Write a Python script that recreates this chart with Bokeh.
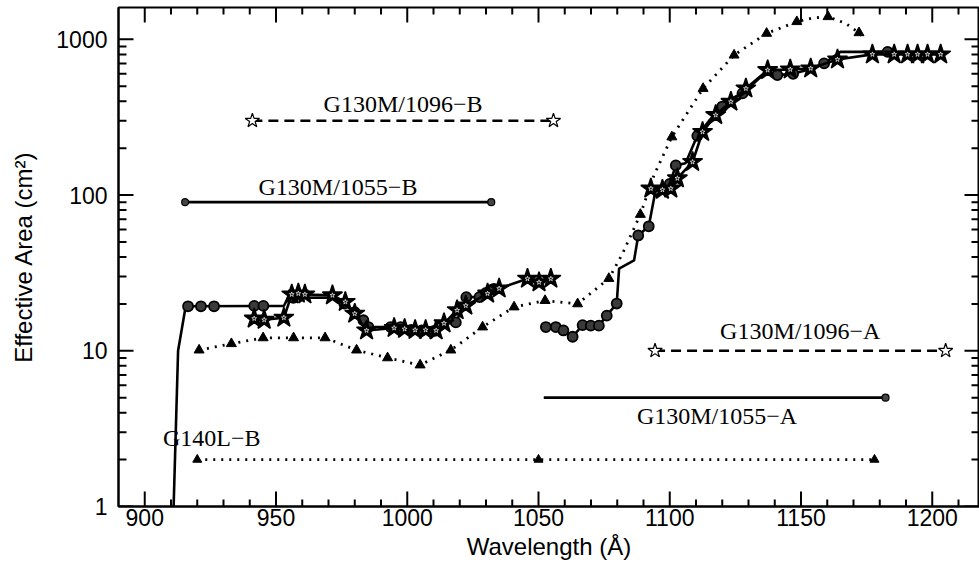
import math
from bokeh.plotting import figure
from bokeh.models import FixedTicker, Range1d, BasicTickFormatter
from bokeh.core.properties import value
from bokeh.embed import file_html
from bokeh.resources import INLINE

# ---------------- data ----------------
# G130M/1055 segment B (solid line, circles)
b1055_line_wl = [911.0, 912.7, 915.6, 945.2, 953.0, 954.5, 972.0, 976.0, 980.0, 983.3, 985.2,
                 998.0, 1000.0, 1010.2, 1014.0, 1018.5, 1020.5, 1022.5, 1027.5, 1030.0, 1033.0]
b1055_line_A = [1.0, 10.0, 19.3, 19.4, 19.4, 21.9, 22.0, 20.1, 17.7, 15.7, 14.2,
                14.2, 13.6, 13.4, 14.9, 15.2, 18.0, 22.1, 22.1, 23.5, 25.0]
b1055_mark_wl = [916.5, 921.4, 926.4, 941.7, 945.2, 956.6, 976.0, 980.0, 983.3, 985.2, 993.7,
                 997.5, 1001.5, 1005.5, 1010.2, 1018.5, 1022.5, 1027.5, 1030.0, 1033.0]
b1055_mark_A = [19.3, 19.3, 19.3, 19.4, 19.4, 21.9, 20.1, 17.7, 15.7, 14.2, 14.2,
                14.2, 13.6, 13.5, 13.4, 15.2, 22.1, 22.1, 23.5, 25.0]

# G130M/1055 segment A (solid line, circles)
a1055_line_wl = [1052.8, 1056.6, 1059.5, 1063.0, 1066.8, 1069.9, 1073.0, 1076.0, 1079.8, 1080.7,
                 1086.4, 1088.0, 1092.0, 1094.5, 1100.0, 1102.3, 1106.0, 1110.5, 1115.0, 1120.0,
                 1124.0, 1127.7, 1134.0, 1137.0, 1141.0, 1147.0, 1153.0, 1158.8, 1165.0, 1183.0]
a1055_line_A = [14.2, 14.2, 13.5, 12.3, 14.6, 14.5, 14.5, 16.8, 20.1, 33.7,
                38.0, 55.0, 63.0, 105.0, 118.0, 155.0, 160.0, 240.0, 300.0, 370.0,
                420.0, 449.0, 560.0, 610.0, 589.0, 600.0, 640.0, 700.0, 830.0, 830.0]
a1055_mark_wl = [1052.8, 1056.6, 1059.5, 1063.0, 1066.8, 1069.9, 1073.0, 1076.0, 1079.8, 1088.0,
                 1092.0, 1100.0, 1102.3, 1110.5, 1120.0, 1127.7, 1141.0, 1147.0, 1158.8, 1183.0]
a1055_mark_A = [14.2, 14.2, 13.5, 12.3, 14.6, 14.5, 14.5, 16.8, 20.1, 55.0,
                63.0, 118.0, 155.0, 240.0, 370.0, 449.0, 589.0, 600.0, 700.0, 830.0]

# G130M/1096 segment B (solid line, stars)
b1096_wl = [941.7, 945.5, 953.0, 956.0, 958.5, 961.0, 971.5, 976.4, 980.0, 984.5, 995.0,
            999.0, 1003.0, 1007.0, 1011.0, 1014.0, 1019.0, 1022.3, 1030.6, 1035.0, 1045.8,
            1050.2, 1054.7]
b1096_A = [16.1, 15.8, 16.3, 23.0, 23.3, 23.0, 22.7, 20.6, 17.3, 13.5, 14.0,
           13.8, 13.6, 13.6, 13.5, 15.0, 18.2, 19.5, 23.3, 25.1, 29.0,
           27.5, 29.0]

# G130M/1096 segment A (solid line, stars)
a1096_wl = [1092.8, 1097.2, 1100.4, 1102.9, 1108.7, 1112.5, 1117.5, 1123.3, 1129.0, 1137.3,
            1145.9, 1153.7, 1163.9, 1177.2, 1185.5, 1190.6, 1194.4, 1198.2, 1203.2]
a1096_A = [110.0, 108.0, 110.0, 128.0, 163.0, 254.0, 326.0, 397.0, 483.0, 634.0,
           640.0, 650.0, 742.0, 800.0, 800.0, 800.0, 800.0, 800.0, 800.0]

# G140L segment B (dotted line, triangles)
g140_line_wl = [920.7, 933.0, 945.1, 956.7, 968.7, 980.7, 992.5, 1004.9, 1016.6, 1028.7,
                1040.7, 1052.5, 1064.9, 1076.8, 1082.0, 1088.8, 1094.0, 1100.8, 1112.7, 1124.5,
                1136.9, 1148.4, 1154.5, 1160.3, 1167.0, 1172.1, 1174.5]
g140_line_A = [10.1, 11.1, 12.1, 12.1, 12.1, 10.1, 9.0, 8.1, 10.1, 14.2,
               19.1, 21.0, 20.0, 29.1, 42.0, 75.0, 134.0, 236.0, 483.0, 791.0,
               1091.0, 1297.0, 1370.0, 1396.0, 1265.0, 1101.0, 990.0]
g140_mark_wl = [920.7, 933.0, 945.1, 956.7, 968.7, 980.7, 992.5, 1004.9, 1016.6, 1028.7,
                1040.7, 1052.5, 1064.9, 1076.8, 1088.8, 1100.8, 1112.7, 1124.5, 1136.9, 1148.4,
                1160.3, 1172.1]
g140_mark_A = [10.1, 11.1, 12.1, 12.1, 12.1, 10.1, 9.0, 8.1, 10.1, 14.2,
               19.1, 21.0, 20.0, 29.1, 75.0, 236.0, 483.0, 791.0, 1091.0, 1297.0,
               1396.0, 1101.0]

# coverage bars (labels)
lab_1096b_wl = [941.0, 1055.7]; lab_1096b_A = [300.0, 300.0]
lab_1055b_wl = [915.4, 1032.0]; lab_1055b_A = [90.0, 90.0]
lab_1096a_wl = [1094.4, 1205.1]; lab_1096a_A = [10.0, 10.0]
lab_1055a_wl = [1052.0, 1182.2]; lab_1055a_A = [5.0, 5.0]
lab_g140_wl = [920.0, 1050.0, 1178.0]; lab_g140_A = [2.0, 2.0, 2.0]

label_text = ["G130M/1096\u2212B", "G130M/1055\u2212B", "G130M/1096\u2212A",
              "G130M/1055\u2212A", "G140L\u2212B"]
label_wl = [998.4, 973.6, 1149.7, 1118.0, 925.5]
label_A = [300.0, 90.0, 10.0, 5.0, 2.0]
label_dy = [-17, -15, -20, 18, -22]

x_major = [900, 950, 1000, 1050, 1100, 1150, 1200]
x_minor = [v for v in range(900, 1211, 10) if v % 50 != 0]
y_major = [1, 10, 100, 1000]
y_minor = [m * 10 ** e for e in range(0, 4) for m in range(2, 10) if m * 10 ** e < 1600]

# ---------------- layout ----------------
W, H = 979, 566
BL, BR, BT, BB = 118, 0, 7, 60
XMIN, XMAX = 890.0, 1218.0
YMIN, YMAX = 1.0, 1600.0
FW, FH = W - BL - BR, H - BT - BB
PPX = FW / (XMAX - XMIN)              # pixels per Angstrom
PPD = FH / math.log10(YMAX / YMIN)    # pixels per decade

p = figure(width=W, height=H, x_range=Range1d(XMIN, XMAX), y_range=Range1d(YMIN, YMAX),
           y_axis_type="log", output_backend="svg", toolbar_location=None,
           min_border_left=BL, min_border_right=BR, min_border_top=BT, min_border_bottom=BB,
           background_fill_color="white", border_fill_color="white")
p.outline_line_color = "black"
p.outline_line_width = 2
p.xgrid.visible = False
p.ygrid.visible = False

FONT = "Liberation Sans"
SERIF = "Liberation Serif"

def style(ax):
    ax.axis_line_color = "black"
    ax.axis_line_width = 2
    ax.major_tick_in = 0
    ax.major_tick_out = 0
    ax.minor_tick_in = 0
    ax.minor_tick_out = 0
    ax.major_label_text_font = FONT
    ax.major_label_text_font_size = "23px"
    ax.major_label_text_color = "black"
    ax.axis_label_text_font = FONT
    ax.axis_label_text_font_size = "24px"
    ax.axis_label_text_font_style = "normal"
    ax.axis_label_text_color = "black"

xa = p.xaxis[0]
xa.ticker = FixedTicker(ticks=x_major, minor_ticks=[])
style(xa)
xa.major_label_standoff = 2
xa.axis_label = "Wavelength (\u00c5)"
xa.axis_label_standoff = 4

ya = p.yaxis[0]
ya.ticker = FixedTicker(ticks=y_major, minor_ticks=[])
ya.formatter = BasicTickFormatter()
ya.major_label_overrides = {1: "1", 10: "10", 100: "100", 1000: "1000"}
style(ya)
ya.major_label_standoff = 11
ya.axis_label = "Effective Area (cm\u00b2)"
ya.axis_label_standoff = 16

# inward ticks on all four sides, as one broken line (NaN separators)
MAJ, MINX, MINY = 15, 7, 8
NAN = float("nan")
tick_x, tick_y = [], []
for vals, L in ((x_major, MAJ), (x_minor, MINX)):
    up = 10 ** (L / PPD)
    for v in vals:
        tick_x += [v, v, NAN, v, v, NAN]
        tick_y += [YMIN * 1.0005, YMIN * up, NAN, YMAX / 1.0005, YMAX / up, NAN]
for vals, L in ((y_major, MAJ), (y_minor, MINY)):
    dx = L / PPX
    for v in vals:
        tick_x += [XMIN + 0.05, XMIN + dx, NAN, XMAX - 0.05, XMAX - dx, NAN]
        tick_y += [v, v, NAN, v, v, NAN]
p.line(tick_x, tick_y, line_color="black", line_width=2)

# ---------------- curves ----------------
LW = 2.6
p.line(g140_line_wl, g140_line_A, line_color="black", line_width=2.8, line_dash="2 6")
p.scatter(g140_mark_wl, g140_mark_A, marker="triangle", size=10, fill_color="black", line_color="black")

p.line(b1055_line_wl, b1055_line_A, line_color="black", line_width=LW)
p.line(a1055_line_wl, a1055_line_A, line_color="black", line_width=LW)
p.scatter(b1055_mark_wl, b1055_mark_A, marker="circle", size=10, fill_color="#3a3a3a",
          line_color="black", line_width=1.8)
p.scatter(a1055_mark_wl, a1055_mark_A, marker="circle", size=10, fill_color="#3a3a3a",
          line_color="black", line_width=1.8)

p.line(b1096_wl, b1096_A, line_color="black", line_width=LW)
p.line(a1096_wl, a1096_A, line_color="black", line_width=LW)
for wl, A in ((b1096_wl, b1096_A), (a1096_wl, a1096_A)):
    p.scatter(wl, A, marker="star", size=21, fill_color="black", line_color="black", line_width=1.5)
    p.scatter(wl, A, marker="star", size=5, fill_color=None, line_color="white", line_width=0.7)

# ---------------- coverage bars ----------------
p.line(lab_1096b_wl, lab_1096b_A, line_color="black", line_width=LW, line_dash="10 6")
p.scatter(lab_1096b_wl, lab_1096b_A, marker="star", size=15, fill_color="white", line_color="black", line_width=1.2)
p.line(lab_1055b_wl, lab_1055b_A, line_color="black", line_width=LW)
p.scatter(lab_1055b_wl, lab_1055b_A, marker="circle", size=7, fill_color="#444444", line_color="black", line_width=1.2)
p.line(lab_1096a_wl, lab_1096a_A, line_color="black", line_width=LW, line_dash="10 6")
p.scatter(lab_1096a_wl, lab_1096a_A, marker="star", size=15, fill_color="white", line_color="black", line_width=1.2)
p.line(lab_1055a_wl, lab_1055a_A, line_color="black", line_width=LW)
p.scatter(lab_1055a_wl[1:], lab_1055a_A[1:], marker="circle", size=7, fill_color="#444444", line_color="black", line_width=1.2)
p.line(lab_g140_wl, lab_g140_A, line_color="black", line_width=2.8, line_dash="2 6")
p.scatter(lab_g140_wl, lab_g140_A, marker="triangle", size=9, fill_color="black", line_color="black")

for t, x, y, dy in zip(label_text, label_wl, label_A, label_dy):
    p.text(x=[x], y=[y], text=[t], y_offset=dy, text_align="center", text_baseline="middle",
           text_font=value(SERIF), text_font_size="24px", text_color="black")

open("out.html", "w").write(file_html(p, INLINE))
